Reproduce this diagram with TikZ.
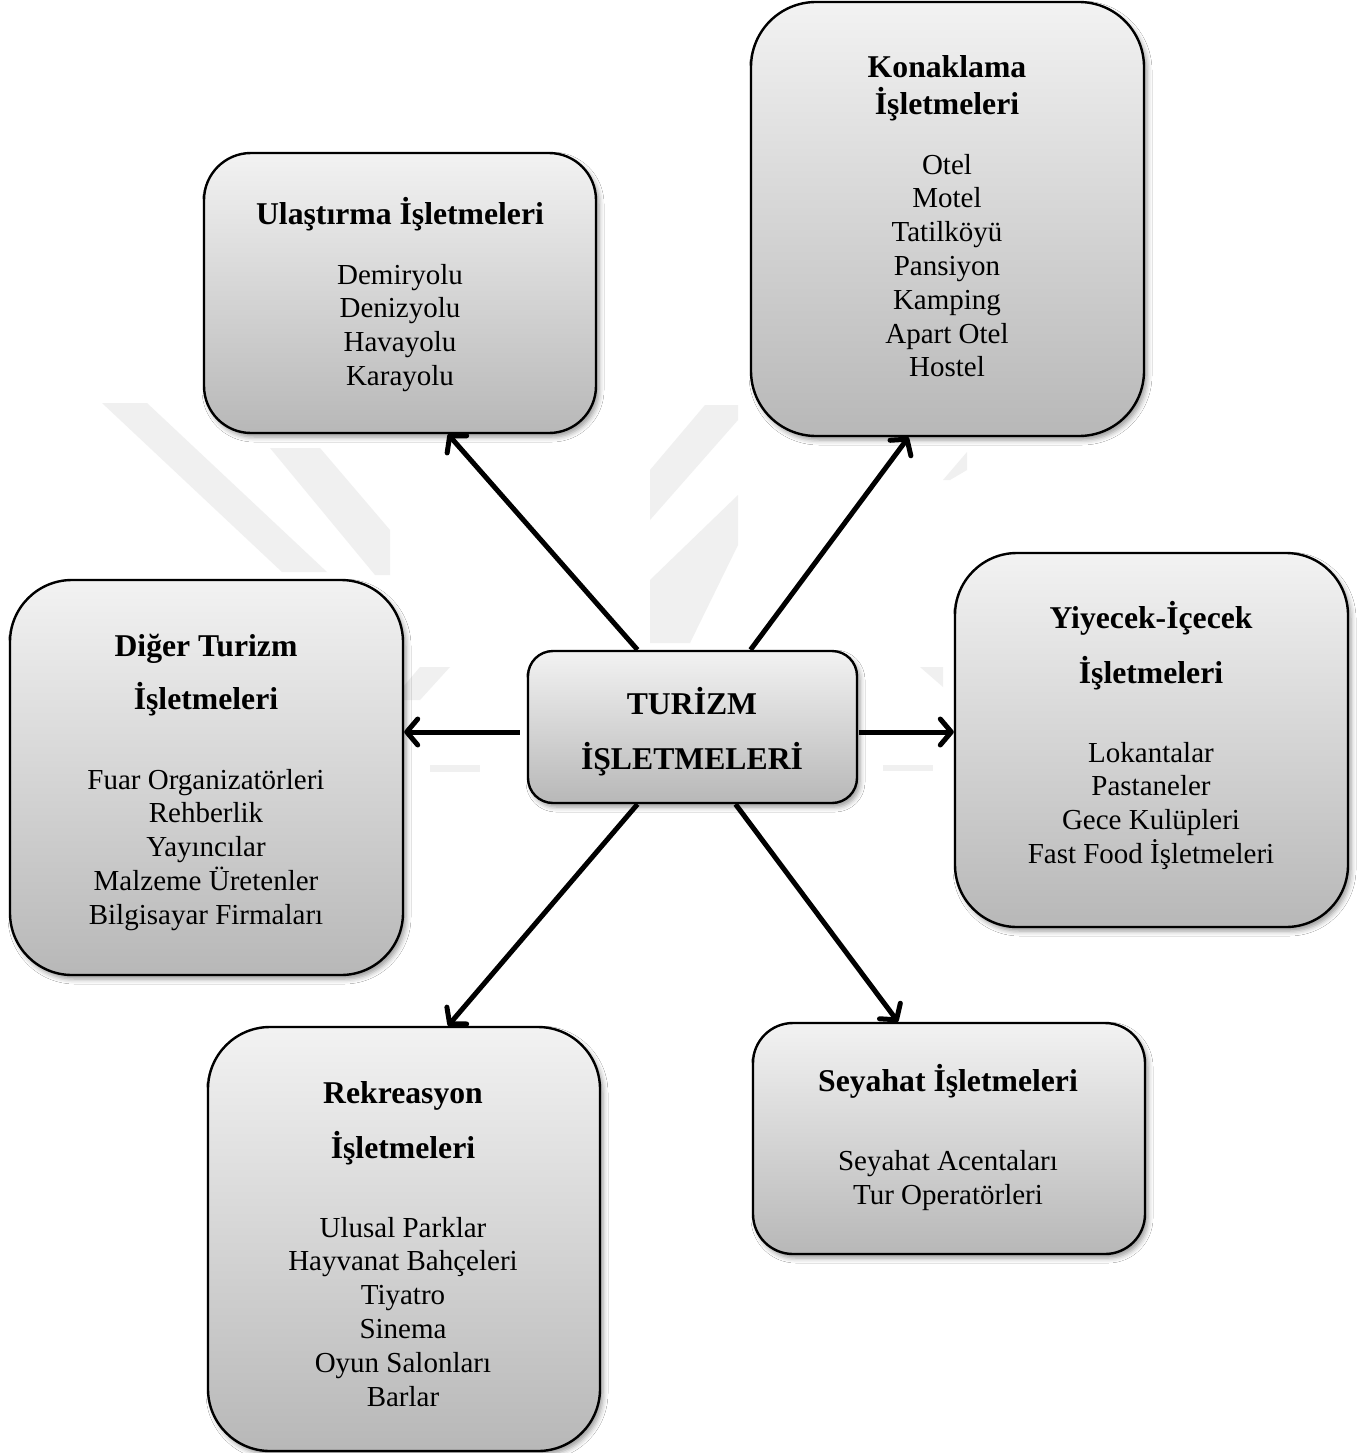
\documentclass[tikz,border=0pt]{standalone}
\usepackage{fontspec}
\setmainfont{Liberation Serif}
\usetikzlibrary{arrows.meta,shadows.blur}
\begin{document}
\begin{tikzpicture}[x=1pt,y=-1pt,
  box/.style={draw=black, line width=2.4pt, rounded corners=#1,
    top color=black!5, bottom color=black!28, inner sep=0pt,
    blur shadow={shadow xshift=3pt,shadow yshift=-4pt,shadow opacity=40,shadow blur radius=5pt}},
  ttl/.style={font=\fontsize{31.7}{36}\selectfont\bfseries, anchor=base, inner sep=0pt},
  itm/.style={font=\fontsize{29}{34}\selectfont, anchor=base, inner sep=0pt},
  arr/.style={line width=5pt, -{Straight Barb[length=11pt,width=26pt,round]}},
  wm/.style={fill=black!6, draw=none}]
\fill[white] (0,0) rectangle (1369,1453);
\useasboundingbox (0,0) rectangle (1369,1453);
% faint watermark
\fill[wm] (102,403) -- (147,403) -- (327,572) -- (282,572) -- cycle;
\fill[wm] (270,448) -- (320,448) -- (390,530) -- (390,575) -- (375,575) -- cycle;
\fill[wm] (650,470) -- (705,405) -- (738,405) -- (738,420) -- (650,520) -- cycle;
\fill[wm] (650,580) -- (738,495) -- (738,545) -- (690,643) -- (650,643) -- cycle;
\fill[wm] (392,700) -- (420,667) -- (450,667) -- (420,700) -- cycle;
\fill[wm] (943,480) -- (967,452) -- (967,470) -- (950,480) -- cycle;
\fill[wm] (920,667) -- (943,667) -- (943,687) -- cycle;
\fill[wm] (430,765) rectangle (480,772);
\fill[wm] (883,765) rectangle (933,771);
% boxes
\node[box=47pt, minimum width=392pt, minimum height=280pt] (ul) at (400,293) {};
\node[box=65pt, minimum width=393pt, minimum height=434pt] (ko) at (947.5,219) {};
\node[box=62pt, minimum width=393pt, minimum height=395pt] (di) at (206.5,777.5) {};
\node[box=25pt, minimum width=329pt, minimum height=152pt] (c) at (692.5,727) {};
\node[box=62pt, minimum width=393pt, minimum height=374pt] (yi) at (1151.5,740) {};
\node[box=62pt, minimum width=392pt, minimum height=424pt] (re) at (404,1239) {};
\node[box=40pt, minimum width=392pt, minimum height=231pt] (se) at (949,1138.5) {};
% texts
\node[ttl] (ult) at (400,224) {Ulaştırma İşletmeleri};
\foreach \t [count=\i from 0] in {Demiryolu,Denizyolu,Havayolu,Karayolu}
  \node[itm] (ul\i) at (400,284+33.7*\i) {\t};
\node[ttl] (kot1) at (947,78) {Konaklama};
\node[ttl] (kot2) at (947,114) {İşletmeleri};
\foreach \t [count=\i from 0] in {Otel,Motel,Tatilköyü,Pansiyon,Kamping,Apart Otel,Hostel}
  \node[itm] (ko\i) at (947,174+33.8*\i) {\t};
\node[ttl] (dit1) at (206,656) {Diğer Turizm};
\node[ttl] (dit2) at (206,709) {İşletmeleri};
\foreach \t [count=\i from 0] in {Fuar Organizatörleri,Rehberlik,Yayıncılar,Malzeme Üretenler,Bilgisayar Firmaları}
  \node[itm] (di\i) at (206,789+33.8*\i) {\t};
\node[ttl] (ct1) at (692,714) {TURİZM};
\node[ttl] (ct2) at (692,769) {İŞLETMELERİ};
\node[ttl] (yit1) at (1151,628) {Yiyecek-İçecek};
\node[ttl] (yit2) at (1151,683) {İşletmeleri};
\foreach \t [count=\i from 0] in {Lokantalar,Pastaneler,Gece Kulüpleri,Fast Food İşletmeleri}
  \node[itm] (yi\i) at (1151,762+33.7*\i) {\t};
\node[ttl] (ret1) at (403,1103) {Rekreasyon};
\node[ttl] (ret2) at (403,1158) {İşletmeleri};
\foreach \t [count=\i from 0] in {Ulusal Parklar,Hayvanat Bahçeleri,Tiyatro,Sinema,Oyun Salonları,Barlar}
  \node[itm] (re\i) at (403,1237+33.8*\i) {\t};
\node[ttl] (set) at (948,1091) {Seyahat İşletmeleri};
\foreach \t [count=\i from 0] in {Seyahat Acentaları,Tur Operatörleri}
  \node[itm] (se\i) at (948,1170+34*\i) {\t};
% connectors
\coordinate (lA) at ([xshift=-7pt,yshift=-5pt]c.west);
\coordinate (rA) at ([xshift=1pt,yshift=-5pt]c.east);
\draw[arr] ([xshift=-55pt]c.north) -- ([xshift=48pt]ul.south);
\draw[arr] ([xshift=58pt]c.north) -- ([xshift=-39pt]ko.south);
\draw[arr] (lA) -- (lA -| di.east);
\draw[arr] (rA) -- (rA -| yi.west);
\draw[arr] ([xshift=-55pt]c.south) -- ([xshift=44pt]re.north);
\draw[arr] ([xshift=43pt]c.south) -- ([xshift=-51pt]se.north);
\end{tikzpicture}
\end{document}
